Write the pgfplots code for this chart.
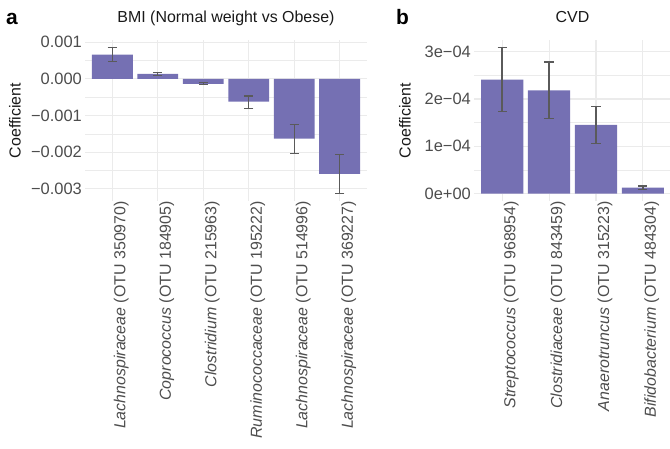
\documentclass[border=0pt]{standalone}
\usepackage{fontspec}
\setmainfont{Liberation Sans}
\usepackage{pgfplots}
\usepackage{pgfplotstable}
\pgfplotsset{compat=1.18}
\definecolor{barcol}{HTML}{7570B3}
\definecolor{errcol}{HTML}{5A5A5A}
\definecolor{gridcol}{HTML}{EBEBEB}
\definecolor{tickcol}{HTML}{4D4D4D}

\pgfplotstableread{
x y ep em
1 0.00066 0.00020 0.00019
2 0.000137 0.000033 0.000037
3 -0.000137 0.000037 0.000023
4 -0.00062 0.00015 0.00018
5 -0.00163 0.00039 0.00040
6 -0.00259 0.00053 0.00054
}\bmidata

\pgfplotstableread{
x y ep em
1 0.000241 0.000068 0.000067
2 0.000218 0.000060 0.000059
3 0.000145 0.000039 0.000039
4 0.0000128 0.0000035 0.0000036
}\cvddata

\pgfplotsset{
  panel/.style={
    scale only axis,
    anchor=south west,
    ybar, bar width=0.9,
    enlargelimits=false,
    axis line style={draw=none},
    major tick length=0pt, minor tick length=0pt,
    xmajorgrids, ymajorgrids, yminorgrids,
    major grid style={draw=gridcol, line width=1.1bp},
    minor grid style={draw=gridcol, line width=0.55bp},
    scaled y ticks=false,
    xtick={1,...,6},
    yticklabel style={anchor=east, inner sep=0pt, xshift=-3bp, text=tickcol, font=\fontsize{16.5}{19}\selectfont},
    xticklabel style={rotate=90, anchor=east, inner sep=0pt, yshift=-9bp, text=tickcol, font=\fontsize{16}{19}\selectfont},
    clip=false,
  },
  bars/.style={
    fill=barcol, draw=none,
    error bars/.cd, y dir=both, y explicit,
    error bar style={line width=1.3bp, draw=errcol},
    error mark options={rotate=90, line width=1.3bp, draw=errcol, mark size=4.6bp},
  },
}

\begin{document}
\begin{tikzpicture}
\useasboundingbox (0,0) rectangle (670bp,449bp);

\begin{axis}[panel,
  at={(85bp,248bp)}, width=282bp, height=161bp,
  xmin=0.4, xmax=6.6, ymin=-0.00333, ymax=0.00106,
  ytick={-0.003,-0.002,-0.001,0,0.001},
  yticklabels={−0.003,−0.002,−0.001,0.000,0.001},
  minor ytick={-0.0025,-0.0015,-0.0005,0.0005},
  xticklabels={{\textit{Lachnospiraceae} (OTU 350970)},{\textit{Coprococcus} (OTU 184905)},{\textit{Clostridium} (OTU 215963)},{\textit{Ruminococcaceae} (OTU 195222)},{\textit{Lachnospiraceae} (OTU 514996)},{\textit{Lachnospiraceae} (OTU 369227)}},
]
\addplot[bars] table[x=x, y=y, y error plus=ep, y error minus=em] {\bmidata};
\end{axis}

\begin{axis}[panel,
  at={(474bp,248bp)}, width=197bp, height=161bp,
  xmin=0.4, xmax=4.6, ymin=-0.0000155, ymax=0.0003245,
  xtick={1,...,4},
  ytick={0,0.0001,0.0002,0.0003},
  yticklabels={0e+00,1e−04,2e−04,3e−04},
  minor ytick={0.00005,0.00015,0.00025},
  xticklabels={{\textit{Streptococcus} (OTU 968954)},{\textit{Clostridiaceae} (OTU 843459)},{\textit{Anaerotruncus} (OTU 315223)},{\textit{Bifidobacterium} (OTU 484304)}},
]
\addplot[bars] table[x=x, y=y, y error plus=ep, y error minus=em] {\cvddata};
\end{axis}

\node[anchor=base west, inner sep=0pt, font=\fontsize{21}{24}\bfseries] at (6bp,424bp) {a};
\node[anchor=base west, inner sep=0pt, font=\fontsize{21}{24}\bfseries] at (396bp,424bp) {b};
\node[anchor=base, inner sep=0pt, text=black!90, font=\fontsize{16}{19}\selectfont] at (226bp,426.3bp) {BMI (Normal weight vs Obese)};
\node[anchor=base, inner sep=0pt, text=black!90, font=\fontsize{16}{19}\selectfont] at (572.5bp,426.3bp) {CVD};
\node[rotate=90, inner sep=0pt, text=black!90, font=\fontsize{16}{19}\selectfont] at (15bp,328.5bp) {Coefficient};
\node[rotate=90, inner sep=0pt, text=black!90, font=\fontsize{16}{19}\selectfont] at (405bp,328.5bp) {Coefficient};
\end{tikzpicture}
\end{document}
